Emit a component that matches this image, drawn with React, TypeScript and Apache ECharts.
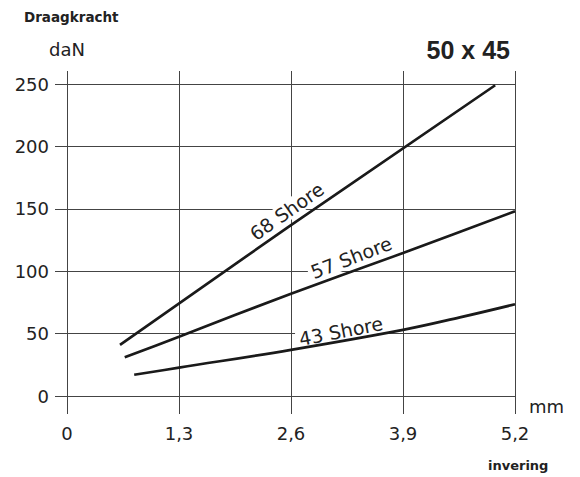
import React, { useEffect, useRef } from "react";
import * as echarts from "echarts";

const xTicks = [0, 1.3, 2.6, 3.9, 5.2];
const yTicks = [0, 50, 100, 150, 200, 250];

const shore68X = [0.615, 2.6, 4.97];
const shore68Y = [41, 137, 249];
const shore57X = [0.67, 1.3, 2.6, 3.9, 5.2];
const shore57Y = [31, 47.5, 82, 114.5, 148];
const shore43X = [0.78, 1.3, 2.6, 3.9, 4.56, 5.2];
const shore43Y = [17, 22.7, 37, 53, 63, 73.5];

const labelTexts = ["68 Shore", "57 Shore", "43 Shore"];
const labelX = [2.55, 3.3, 3.18];
const labelY = [148, 111, 52];
const labelRot = [35, 21, 11];

const FONT = "'DejaVu Sans', sans-serif";
const TITLE_FONT = "'Liberation Sans', Arial, sans-serif";
const GRID = "#444";
const INK = "#1a1a1a";

const pairs = (xs: number[], ys: number[]) => xs.map((x, i) => [x, ys[i]]);

export default function App() {
  const ref = useRef<HTMLDivElement>(null);
  useEffect(() => {
    if (!ref.current) return;
    document.body.style.margin = "0";
    const chart = echarts.init(ref.current, null, { renderer: "svg" });
    const lineSeries = (name: string, data: number[][], smooth: number) => ({
      name,
      type: "line",
      data,
      smooth,
      symbol: "none",
      xAxisIndex: 0,
      yAxisIndex: 0,
      lineStyle: { color: INK, width: 2.7 },
      z: 3,
    });
    chart.setOption({
      animation: false,
      backgroundColor: "#fff",
      grid: { left: 67, right: 65, top: 84, bottom: 81, containLabel: false },
      xAxis: [
        {
          type: "value",
          min: xTicks[0],
          max: xTicks[xTicks.length - 1],
          interval: 1.3,
          name: "mm",
          nameLocation: "end",
          nameGap: 14,
          nameTextStyle: {
            fontFamily: FONT,
            fontSize: 18,
            color: "#222",
            verticalAlign: "top",
            align: "left",
            padding: [1, 0, 0, 0],
          },
          axisLine: { show: true, lineStyle: { color: GRID, width: 1 } },
          axisTick: { show: true, length: 18, lineStyle: { color: GRID, width: 1 } },
          axisLabel: {
            margin: 28,
            fontFamily: FONT,
            fontSize: 18,
            color: "#222",
            formatter: (v: number) => (v === 0 ? "0" : v.toFixed(1).replace(".", ",")),
          },
          splitLine: { show: true, lineStyle: { color: GRID, width: 1 } },
        },
        {
          type: "value",
          position: "top",
          min: xTicks[0],
          max: xTicks[xTicks.length - 1],
          interval: 1.3,
          axisLine: { show: false },
          axisTick: { show: true, length: 13, lineStyle: { color: GRID, width: 1 } },
          axisLabel: { show: false },
          splitLine: { show: false },
        },
      ],
      yAxis: {
        type: "value",
        min: yTicks[0],
        max: yTicks[yTicks.length - 1],
        interval: 50,
        name: "daN",
        nameLocation: "end",
        nameGap: 26,
        nameTextStyle: { fontFamily: FONT, fontSize: 18, color: "#222" },
        axisLine: { show: true, lineStyle: { color: GRID, width: 1 } },
        axisTick: { show: true, length: 12, lineStyle: { color: GRID, width: 1 } },
        axisLabel: { margin: 18, fontFamily: FONT, fontSize: 18, color: "#222" },
        splitLine: { show: true, lineStyle: { color: GRID, width: 1 } },
      },
      series: [
        lineSeries("68 Shore", pairs(shore68X, shore68Y), 0),
        lineSeries("57 Shore", pairs(shore57X, shore57Y), 0.3),
        lineSeries("43 Shore", pairs(shore43X, shore43Y), 0.4),
      ],
    });

    const annotations = labelTexts.map((t, i) => {
      const p = chart.convertToPixel({ gridIndex: 0 }, [labelX[i], labelY[i]]) as number[];
      return {
        type: "text",
        x: p[0],
        y: p[1],
        rotation: (labelRot[i] * Math.PI) / 180,
        z: 1,
        style: {
          text: t,
          fill: "#222",
          font: `19px ${FONT}`,
          align: "center",
          verticalAlign: "middle",
          backgroundColor: "#fff",
          padding: [0, 3],
        },
      };
    });

    chart.setOption({
      graphic: [
        {
          type: "text",
          left: 24,
          top: 10,
          style: { text: "Draagkracht", fill: "#222", font: `bold 13.5px ${FONT}` },
        },
        {
          type: "text",
          right: 70,
          top: 37,
          style: { text: "50 x 45", fill: "#222", font: `bold 25px ${TITLE_FONT}` },
        },
        {
          type: "text",
          left: 488,
          top: 459,
          style: { text: "invering", fill: "#222", font: `bold 13px ${FONT}` },
        },
        ...annotations,
      ],
    });
    return () => chart.dispose();
  }, []);
  return <div ref={ref} style={{ width: 580, height: 477 }} />;
}
